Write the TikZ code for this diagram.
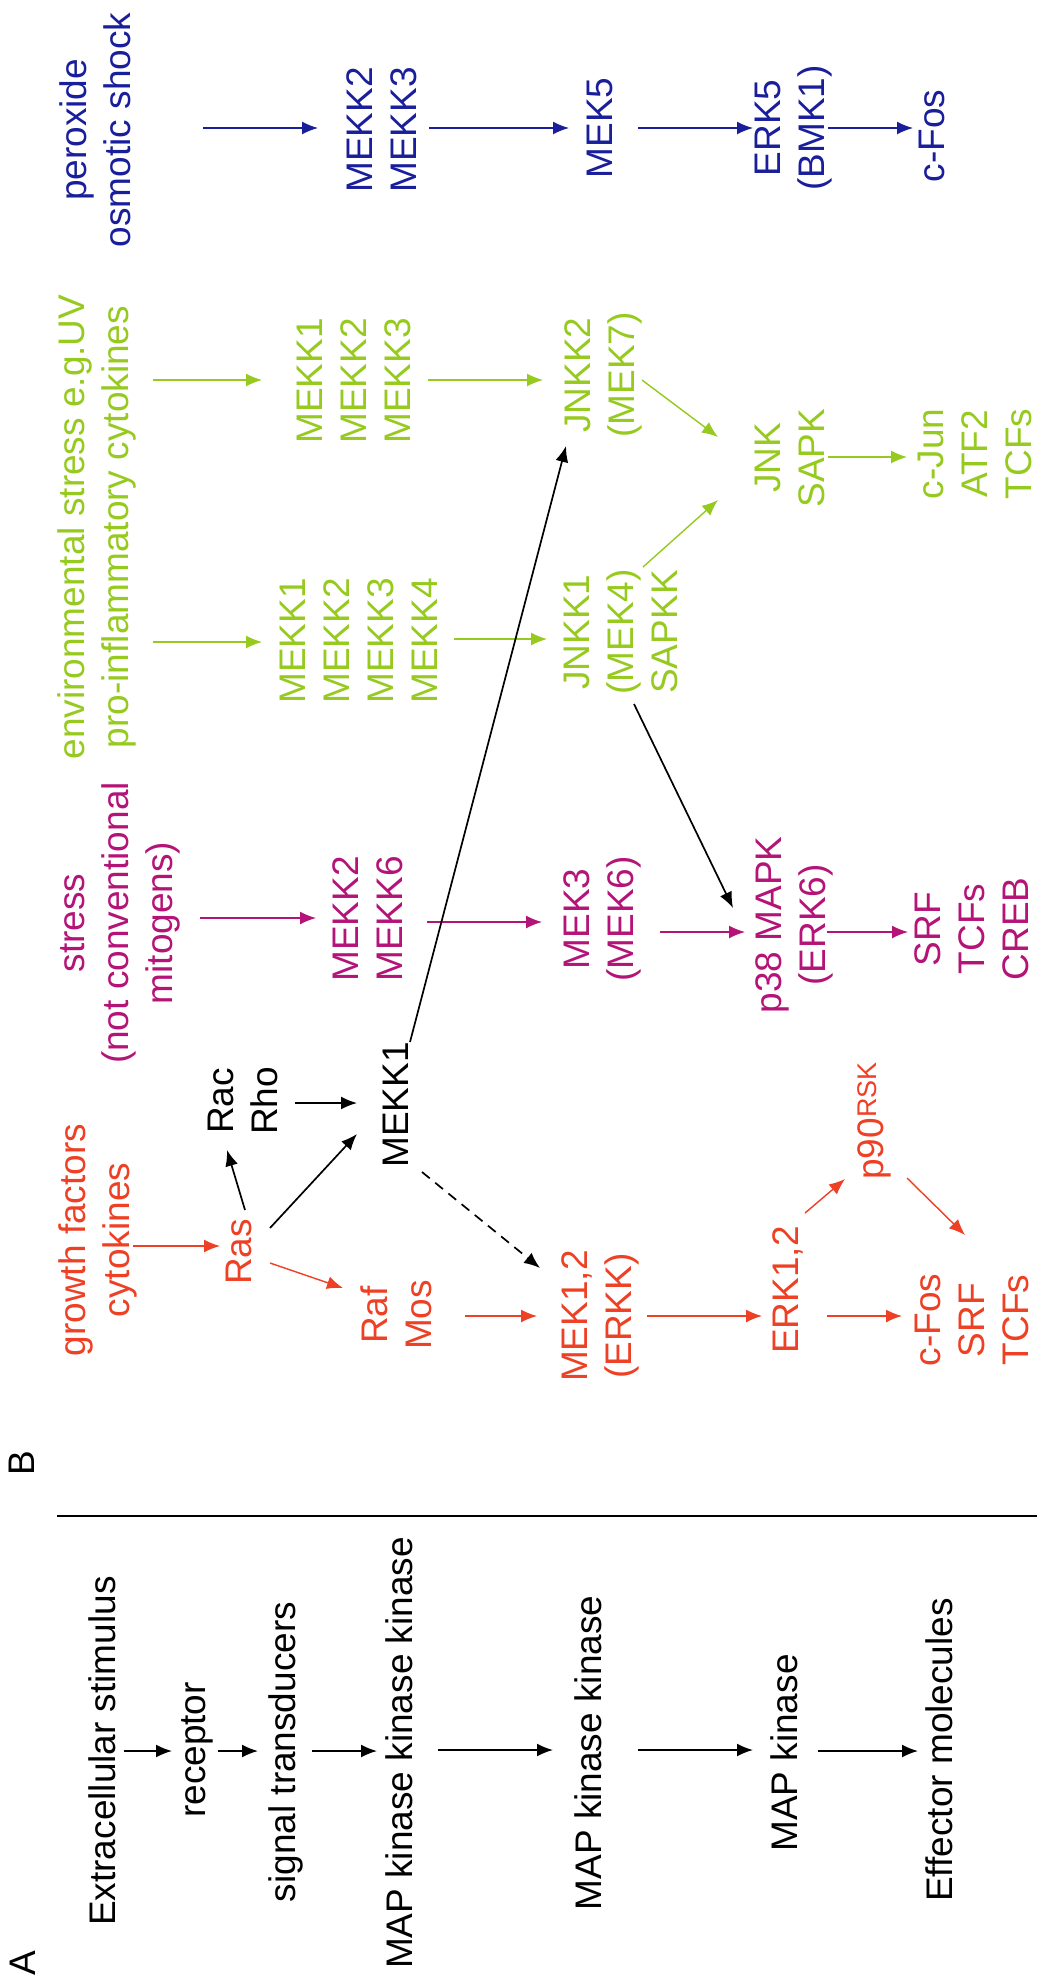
\documentclass[tikz,border=0pt]{standalone}
\usepackage{fontspec}
\setmainfont{Liberation Sans}
\usetikzlibrary{arrows.meta,calc}
\definecolor{cred}{RGB}{238,64,36}
\definecolor{cmag}{RGB}{180,20,120}
\definecolor{cgrn}{RGB}{150,202,30}
\definecolor{cblu}{RGB}{25,30,155}
\newcommand\fsz{\fontsize{37}{44}\selectfont}
\begin{document}
\begin{tikzpicture}[x=1pt,y=-1pt,
  lbl/.style={rotate=90,inner sep=0pt,align=center,font=\fsz},
  arr/.style={-{Latex[length=16pt,width=13pt]},line width=1.7pt},
  carr/.style={-{Latex[length=16pt,width=13pt]},line width=1.4pt}]
\fill[white] (0,0) rectangle (1037,1982);
\useasboundingbox (0,0) rectangle (1037,1982);

% ---------- Panel A ----------
\node[lbl] (labA) at (23,1963) {A};
\node[lbl] (ext) at (102,1751) {Extracellular stimulus};
\node[lbl] (rec) at (197,1750) {receptor};
\node[lbl] (sig) at (286,1752) {signal transducers};
\node[lbl] (mkkk) at (399,1753) {MAP kinase kinase kinase};
\node[lbl] (mkk) at (588,1753) {MAP kinase kinase};
\node[lbl] (mk) at (784,1753) {MAP kinase};
\node[lbl] (eff) at (939,1750) {Effector molecules};
\coordinate (r1) at (57,1516);
\coordinate (r2) at (1037,1516);
\draw[line width=2pt] (r1) -- (r2);

\draw[arr] ($(ext)+(22,0)$) -- ($(rec)+(-25,1)$);
\draw[arr] ($(rec)+(21,1)$) -- ($(sig)+(-28,-1)$);
\draw[arr] ($(sig)+(26,-1)$) -- ($(mkkk)+(-22,-2)$);
\draw[arr] ($(mkkk)+(39,-3)$) -- ($(mkk)+(-35,-3)$);
\draw[arr] ($(mkk)+(50,-3)$) -- ($(mk)+(-31,-3)$);
\draw[arr] ($(mk)+(34,-2)$) -- ($(eff)+(-21,1)$);

% ---------- Panel B ----------
\node[lbl] (labB) at (22,1463) {B};

% blue pathway
\node[lbl,text=cblu] (pox) at (95,130) {peroxide\\osmotic shock};
\node[lbl,text=cblu] (mk23b) at (382,130) {MEKK2\\MEKK3};
\node[lbl,text=cblu] (mek5) at (600,128) {MEK5};
\node[lbl,text=cblu] (erk5) at (794,128) {ERK5\\(BMK1)};
\node[lbl,text=cblu] (cfosb) at (932,136) {c-Fos};
\draw[carr,cblu] ($(pox)+(108,-2)$) -- ($(mk23b)+(-64,-2)$);
\draw[carr,cblu] ($(mk23b)+(47,-2)$) -- ($(mek5)+(-31,0)$);
\draw[carr,cblu] ($(mek5)+(38,0)$) -- ($(erk5)+(-41,0)$);
\draw[carr,cblu] ($(erk5)+(34,0)$) -- ($(cfosb)+(-19,-8)$);

% green pathway
\node[lbl,text=cgrn] (env) at (97,527) {environmental stress e.g.UV\\pro-inflammatory cytokines};
\node[lbl,text=cgrn] (mk123g) at (354,381) {MEKK1\\MEKK2\\MEKK3};
\node[lbl,text=cgrn] (mk1234g) at (359,641) {MEKK1\\MEKK2\\MEKK3\\MEKK4};
\node[lbl,text=cgrn] (jnkk2) at (603,375) {JNKK2\\(MEK7)};
\node[lbl,text=cgrn] (jnkk1) at (621,632) {JNKK1\\(MEK4)\\SAPKK};
\node[lbl,text=cgrn] (jnk) at (790,458) {JNK\\SAPK};
\node[lbl,text=cgrn] (cjun) at (975,454) {c-Jun\\ATF2\\TCFs};
\draw[carr,cgrn] ($(env)+(56,-147)$) -- ($(mk123g)+(-92,-1)$);
\draw[carr,cgrn] ($(env)+(56,115)$) -- ($(mk1234g)+(-97,1)$);
\draw[carr,cgrn] ($(mk123g)+(74,-1)$) -- ($(jnkk2)+(-60,5)$);
\draw[carr,cgrn] ($(mk1234g)+(95,-2)$) -- ($(jnkk1)+(-74,7)$);
\draw[carr,cgrn] ($(jnkk2)+(39,5)$) -- ($(jnk)+(-72,-21)$);
\draw[carr,cgrn] ($(jnkk1)+(22,-65)$) -- ($(jnk)+(-72,42)$);
\draw[carr,cgrn] ($(jnk)+(38,-1)$) -- ($(cjun)+(-68,3)$);

% magenta pathway
\node[lbl,text=cmag] (stress) at (120,923) {stress\\(not conventional\\mitogens)};
\node[lbl,text=cmag] (mk26m) at (368,919) {MEKK2\\MEKK6};
\node[lbl,text=cmag] (mek3) at (602,919) {MEK3\\(MEK6)};
\node[lbl,text=cmag] (p38) at (794,925) {p38 MAPK\\(ERK6)};
\node[lbl,text=cmag] (srf) at (972,929) {SRF\\TCFs\\CREB};
\draw[carr,cmag] ($(stress)+(80,-5)$) -- ($(mk26m)+(-52,-1)$);
\draw[carr,cmag] ($(mk26m)+(59,3)$) -- ($(mek3)+(-60,3)$);
\draw[carr,cmag] ($(mek3)+(58,13)$) -- ($(p38)+(-49,7)$);
\draw[carr,cmag] ($(p38)+(33,7)$) -- ($(srf)+(-64,3)$);
\draw[arr] ($(jnkk1)+(13,72)$) -- ($(p38)+(-61,-17)$);

% red / black pathway
\node[lbl,text=cred] (gf) at (98,1240) {growth factors\\cytokines};
\node[lbl,text=cred] (ras) at (239,1252) {Ras};
\node[lbl] (racrho) at (243,1101) {Rac\\Rho};
\node[lbl] (mekk1) at (396,1105) {MEKK1};
\node[lbl,text=cred] (rafmos) at (396,1315) {Raf\\Mos};
\node[lbl,text=cred] (mek12) at (600,1316) {MEK1,2\\(ERKK)};
\node[lbl,text=cred] (erk12) at (788,1290) {ERK1,2};
\node[lbl,text=cred] (p90) at (874,1121) {p90\raisebox{7pt}{\fontsize{27}{30}\selectfont RSK}};
\node[lbl,text=cred] (cfos) at (972,1320) {c-Fos\\SRF\\TCFs};

\draw[carr,cred] ($(gf)+(35,6)$) -- ($(ras)+(-19,-6)$);
\draw[arr] ($(ras)+(6,-42)$) -- ($(racrho)+(-16,49)$);
\draw[arr] ($(racrho)+(52,2)$) -- ($(mekk1)+(-39,-2)$);
\draw[arr] ($(ras)+(31,-24)$) -- ($(mekk1)+(-39,29)$);
\draw[carr,cred] ($(ras)+(31,11)$) -- ($(rafmos)+(-53,-27)$);
\draw[arr] ($(mekk1)+(14,-63)$) -- ($(jnkk2)+(-37,71)$);
\draw[arr,dash pattern=on 10pt off 7pt] ($(mekk1)+(26,67)$) -- ($(mek12)+(-60,-48)$);
\draw[carr,cred] ($(rafmos)+(69,1)$) -- ($(mek12)+(-63,0)$);
\draw[carr,cred] ($(mek12)+(47,0)$) -- ($(erk12)+(-26,26)$);
\draw[carr,cred] ($(erk12)+(39,26)$) -- ($(cfos)+(-70,-4)$);
\draw[carr,cred] ($(erk12)+(17,-77)$) -- ($(p90)+(-29,58)$);
\draw[carr,cred] ($(p90)+(33,57)$) -- ($(cfos)+(-7,-85)$);
\end{tikzpicture}
\end{document}
